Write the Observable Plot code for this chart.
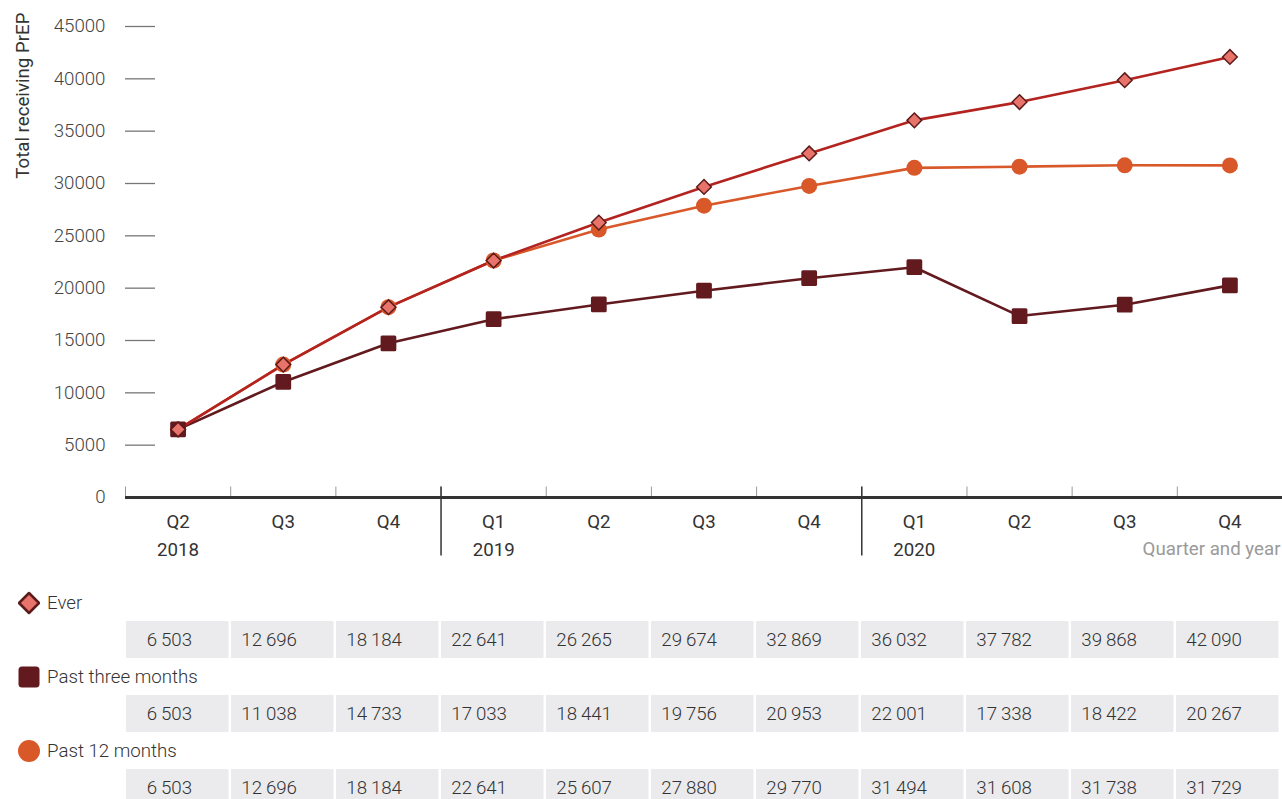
<!DOCTYPE html>
<html>
<head>
<meta charset="utf-8">
<script src="https://cdn.jsdelivr.net/npm/d3@7"></script>
<script src="https://cdn.jsdelivr.net/npm/@observablehq/plot@0.6"></script>
<style>
  html, body { margin: 0; padding: 0; background: #fff; }
  body { font-family: Roboto, "Noto Sans", sans-serif; color: #444; width: 1282px; overflow: hidden; }
  .legend { height: 37px; display: flex; align-items: center; padding-left: 18px; font-size: 18.7px; font-weight: 300; color: #333; }
  .legend svg { margin-right: 7px; }
  svg { display: block; }
</style>
</head>
<body>
<div id="chart"></div>
<div id="table"></div>
<script>
// ---- data ----
const quarters = ["Q2", "Q3", "Q4", "Q1", "Q2", "Q3", "Q4", "Q1", "Q2", "Q3", "Q4"];
const years = ["2018", "2018", "2018", "2019", "2019", "2019", "2019", "2020", "2020", "2020", "2020"];
const ever = [6503, 12696, 18184, 22641, 26265, 29674, 32869, 36032, 37782, 39868, 42090];
const pastThreeMonths = [6503, 11038, 14733, 17033, 18441, 19756, 20953, 22001, 17338, 18422, 20267];
const past12Months = [6503, 12696, 18184, 22641, 25607, 27880, 29770, 31494, 31608, 31738, 31729];
const yTicks = [0, 5000, 10000, 15000, 20000, 25000, 30000, 35000, 40000, 45000];
const seriesNames = ["Ever", "Past three months", "Past 12 months"];
const yLabel = "Total receiving PrEP";
const xLabel = "Quarter and year";

// ---- derived tables ----
const periods = quarters.map((q, i) => ({i, q, year: years[i], key: years[i] + " " + q,
  showYear: i === 0 || years[i] !== years[i - 1]}));
const mk = (vals) => vals.map((v, i) => ({i, v, key: periods[i].key}));
const dEver = mk(ever), dThree = mk(pastThreeMonths), dTwelve = mk(past12Months);
const boundaries = periods.map(p => p.i - 0.5);
const yearStarts = periods.filter(p => p.i > 0 && p.showYear).map(p => p.i - 0.5);

const W = 1282, ML = 125, FS = 18.7;
const col = {ever: "#b32320", everFill: "#e8736a", everStroke: "#5c1a1a", three: "#621a1f", twelve: "#d9582a"};

const chart = Plot.plot({
  width: W, height: 584,
  marginTop: 26, marginBottom: 87, marginLeft: ML, marginRight: 0,
  style: {fontFamily: "Roboto", fontSize: FS + "px", color: "#444", background: "#fff"},
  x: {type: "linear", domain: [-0.5, quarters.length - 0.5], axis: null},
  y: {domain: [0, 45000], axis: null},
  marks: [
    Plot.axisY({ticks: yTicks, tickSize: 0, tickPadding: 20, label: null, tickFormat: d => String(d), fontSize: FS, fontWeight: 300}),
    Plot.ruleY(yTicks.filter(d => d > 0), {stroke: "#777", strokeWidth: 1.3, insetRight: W - ML - 30}),
    Plot.text([yLabel], {x: null, y: null, text: d => d, frameAnchor: "top-left", rotate: -90, textAnchor: "end",
      dx: -110, dy: -14, fontSize: FS, fontWeight: 400, fill: "#333"}),
    // x axis
    Plot.ruleX(boundaries, {x: d => d, y1: 0, y2: 1000, stroke: "#999", strokeWidth: 1}),
    Plot.ruleX(yearStarts, {x: d => d, y1: 1000, y2: -5600, stroke: "#333", strokeWidth: 1.5}),
    Plot.ruleY([0], {stroke: "#333", strokeWidth: 3}),
    Plot.text(periods, {x: "i", text: "q", frameAnchor: "bottom", dy: 30, fontSize: FS, fontWeight: 400, fill: "#333"}),
    Plot.text(periods.filter(p => p.showYear), {x: "i", text: "year", frameAnchor: "bottom", dy: 58, fontSize: FS, fontWeight: 400, fill: "#333"}),
    Plot.text([xLabel], {x: null, y: null, text: d => d, frameAnchor: "bottom-right", textAnchor: "end", dx: -2, dy: 57, fontSize: FS, fontWeight: 400, fill: "#9a9a9a"}),
    // lines
    Plot.line(dTwelve, {x: "i", y: "v", stroke: col.twelve, strokeWidth: 2.6}),
    Plot.line(dThree, {x: "i", y: "v", stroke: col.three, strokeWidth: 2.6}),
    Plot.line(dEver, {x: "i", y: "v", stroke: col.ever, strokeWidth: 2.6}),
    // markers
    Plot.dot(dTwelve, {x: "i", y: "v", symbol: "circle", r: 8, fill: col.twelve}),
    Plot.dot(dThree, {x: "i", y: "v", symbol: "square", r: 7.2, fill: col.three, stroke: col.three, strokeWidth: 3, strokeLinejoin: "round"}),
    Plot.dot(dEver, {x: "i", y: "v", symbol: "diamond2", r: 6.6, fill: col.everFill, stroke: col.everStroke, strokeWidth: 1.5})
  ]
});
document.getElementById("chart").append(chart);

// ---- table ----
const fmt = d3.formatLocale({decimal: ".", thousands: "\u2009", grouping: [3], currency: ["", ""]}).format(",d");
const legendSymbols = [
  `<svg width="22" height="24" viewBox="-11 -12 22 24"><path d="M0,-10L10,0L0,10L-10,0Z" fill="${col.everFill}" stroke="${col.everStroke}" stroke-width="2.5" stroke-linejoin="round"/></svg>`,
  `<svg width="22" height="24" viewBox="-11 -12 22 24"><rect x="-10.5" y="-10.5" width="21" height="21" rx="3.5" fill="${col.three}"/></svg>`,
  `<svg width="22" height="24" viewBox="-11 -12 22 24"><circle r="11" fill="${col.twelve}"/></svg>`
];
const tableData = [dEver, dThree, dTwelve];
const tableEl = document.getElementById("table");
seriesNames.forEach((name, s) => {
  const lg = document.createElement("div");
  lg.className = "legend";
  lg.innerHTML = legendSymbols[s] + `<span>${name}</span>`;
  tableEl.append(lg);
  const row = Plot.plot({
    width: W, height: 37,
    marginTop: 0, marginBottom: 0, marginLeft: ML, marginRight: 0,
    style: {fontFamily: "Roboto", fontSize: FS + "px", background: "#fff"},
    x: {type: "band", domain: periods.map(p => p.key), padding: 0, axis: null},
    marks: [
      Plot.cell(tableData[s], {x: "key", fill: "#ebebed", insetRight: 2.5}),
      Plot.text(tableData[s], {x: "key", text: d => fmt(d.v), textAnchor: "end", dx: 13, fontSize: FS, fontWeight: 300, fill: "#333"})
    ]
  });
  tableEl.append(row);
});
</script>
</body>
</html>
